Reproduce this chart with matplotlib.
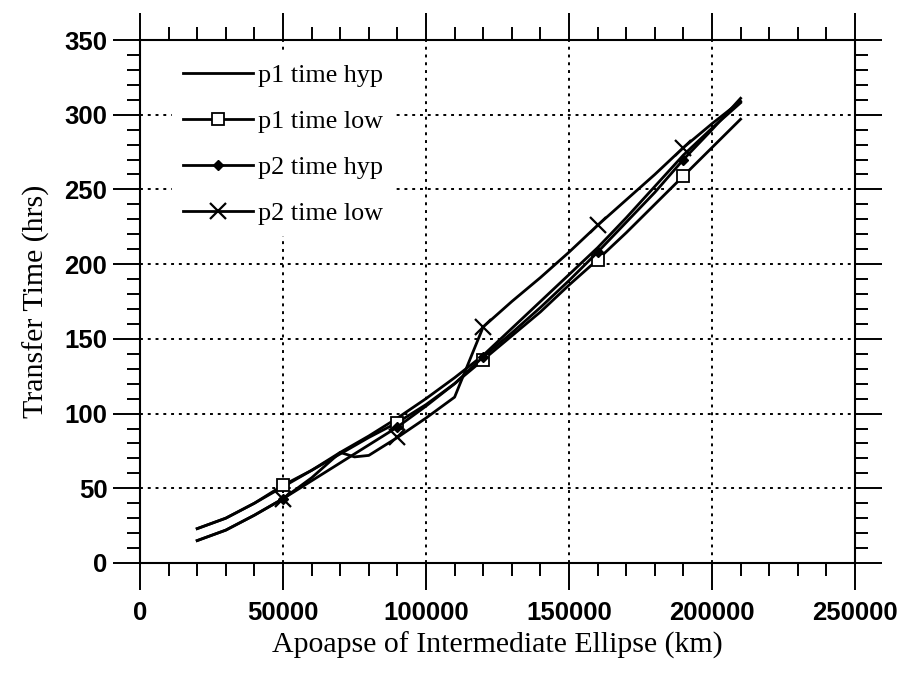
import matplotlib
matplotlib.use("Agg")
import matplotlib.pyplot as plt
from matplotlib.ticker import MultipleLocator

# ---- data ----
x_common = [20000, 30000, 40000, 50000, 60000, 70000, 80000, 90000, 100000, 110000,
            120000, 130000, 140000, 150000, 160000, 170000, 180000, 190000, 200000, 210000]
p1_time_hyp = [23, 30, 40, 51, 62, 74, 85, 97, 110, 124,
               139, 157, 175, 193, 211, 231, 252, 273, 291, 308]
p1_time_low = [23, 30, 40, 52, 62, 73, 84, 94, 106, 120,
               136, 152, 168, 186, 203, 221, 240, 259, 278, 297]
p2_time_hyp = [15, 22, 32, 43, 55, 67, 79, 91, 105, 120,
               138, 154, 171, 189, 208, 228, 248, 270, 290, 311]
x_p2_low = [20000, 30000, 40000, 50000, 60000, 70000, 75000, 80000, 90000, 100000,
            110000, 120000, 130000, 140000, 150000, 160000, 170000, 180000, 190000,
            200000, 210000]
p2_time_low = [15, 22, 32, 43, 57, 74, 71, 72, 84, 97,
               111, 158, 175, 191, 208, 226, 243, 260, 278, 294, 309]
marker_x = [50000, 90000, 120000, 160000, 190000]

labels = ["p1 time hyp", "p1 time low", "p2 time hyp", "p2 time low"]
xlabel = "Apoapse of Intermediate Ellipse (km)"
ylabel = "Transfer Time (hrs)"

serif = ["Liberation Serif", "DejaVu Serif"]
sans = ["Liberation Sans", "DejaVu Sans"]

fig = plt.figure(figsize=(9.03, 6.73), dpi=100)
W, H = 903, 673
left, right, top, bottom = 140, 855, 40, 563
ax = fig.add_axes([left / W, 1 - bottom / H, (right - left) / W, (bottom - top) / H])

lw = 2.0
def markevery_for(xs):
    return [i for i, v in enumerate(xs) if v in marker_x]

ax.plot(x_common, p1_time_hyp, color="black", lw=lw, label=labels[0])
ax.plot(x_common, p1_time_low, color="black", lw=lw, marker="s", ms=9, mfc="white",
        mec="black", mew=1.3, markevery=markevery_for(x_common), label=labels[1])
ax.plot(x_common, p2_time_hyp, color="black", lw=lw, marker="D", ms=5, mfc="black",
        mec="black", markevery=markevery_for(x_common), label=labels[2])
ax.plot(x_p2_low, p2_time_low, color="black", lw=lw, marker="x", ms=11, mew=1.6,
        markevery=markevery_for(x_p2_low), label=labels[3])

ax.set_xlim(0, 250000)
ax.set_ylim(0, 350)
ax.xaxis.set_major_locator(MultipleLocator(50000))
ax.xaxis.set_minor_locator(MultipleLocator(10000))
ax.yaxis.set_major_locator(MultipleLocator(50))
ax.yaxis.set_minor_locator(MultipleLocator(10))
ax.tick_params(which="both", direction="out", top=True, right=True, width=1.4, color="black")
ax.tick_params(which="major", length=19.5)
ax.tick_params(which="minor", length=9.5)
ax.tick_params(axis="x", which="major", pad=8)
ax.tick_params(axis="y", which="major", pad=4)
for sp in ax.spines.values():
    sp.set_linewidth(1.5)

ax.grid(True, which="major", color="black", linestyle=(0, (1.5, 2.5)), lw=1.4)
ax.set_axisbelow(True)

for lab in ax.get_xticklabels() + ax.get_yticklabels():
    lab.set_fontfamily(sans)
    lab.set_fontweight("bold")
    lab.set_fontsize(18.5)

ax.set_xlabel(xlabel, fontfamily=serif, fontsize=21.5, labelpad=5)
ax.set_ylabel(ylabel, fontfamily=serif, fontsize=21.5, labelpad=10)

leg = ax.legend(loc="upper left", bbox_to_anchor=(0.045, 0.975), frameon=True,
                prop={"family": serif, "size": 18.8}, handlelength=2.68, handletextpad=0.2,
                labelspacing=0.87, borderpad=0.4, borderaxespad=0.0)
leg.get_frame().set_edgecolor("white")
leg.get_frame().set_facecolor("white")
leg.get_frame().set_alpha(1.0)

fig.savefig("out.png", dpi=100)
